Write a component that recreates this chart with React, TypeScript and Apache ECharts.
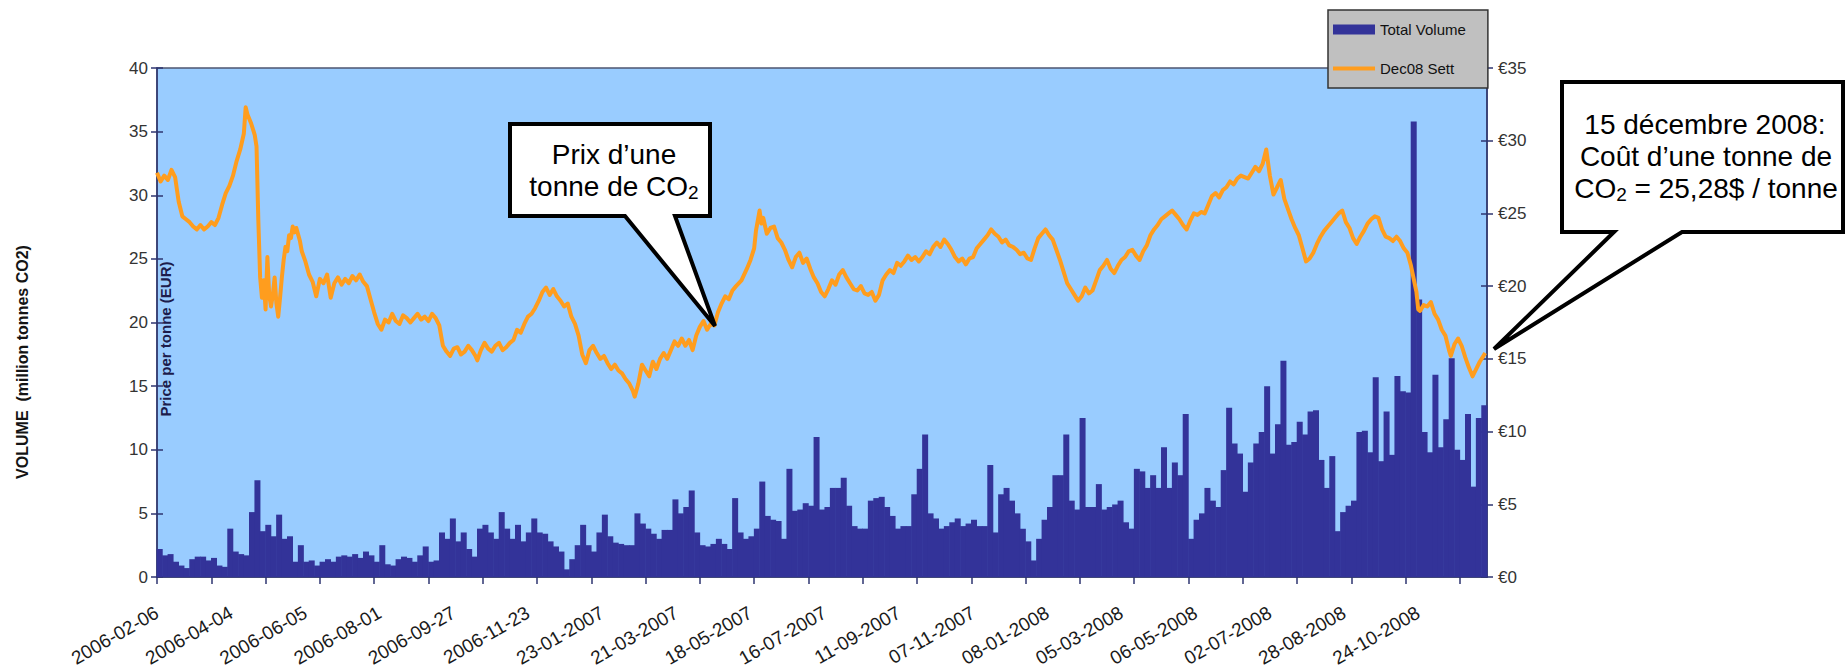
import React, { useEffect, useRef } from 'react';
import * as echarts from 'echarts';

// ---- axis definitions ----
const tickLabels = [
  '2006-02-06', '2006-04-04', '2006-06-05', '2006-08-01', '2006-09-27', '2006-11-23',
  '23-01-2007', '21-03-2007', '18-05-2007', '16-07-2007', '11-09-2007', '07-11-2007',
  '08-01-2008', '05-03-2008', '06-05-2008', '02-07-2008', '28-08-2008', '24-10-2008',
];
const SESSIONS = 735; // trading sessions on the x axis
const LABEL_STEP = 41; // sessions between date labels
const TICK_STEP = 30; // sessions between tick marks
const BIN = 3; // sessions per volume bar

// ---- Total Volume (million tonnes CO2), one value per 3 trading sessions ----
const volume = [
  2.2, 1.7, 1.8, 1.2, 0.9, 0.7, 1.4, 1.6, 1.6, 1.3,
  1.5, 0.9, 0.8, 3.8, 2.0, 1.8, 1.7, 5.1, 7.6, 3.6,
  4.1, 3.2, 4.9, 3.0, 3.2, 1.2, 2.5, 1.2, 1.3, 0.9,
  1.2, 1.4, 1.2, 1.6, 1.7, 1.6, 1.8, 1.5, 2.0, 1.7,
  1.2, 2.5, 1.0, 0.9, 1.4, 1.6, 1.5, 1.2, 1.7, 2.4,
  1.2, 1.3, 3.5, 3.0, 4.6, 2.8, 3.5, 2.2, 1.6, 3.8,
  4.1, 3.5, 3.0, 5.1, 3.8, 3.0, 4.1, 2.8, 3.5, 4.6,
  3.5, 3.4, 2.8, 2.4, 2.0, 0.6, 1.4, 2.5, 4.1, 2.5,
  2.0, 3.5, 4.9, 3.2, 2.7, 2.6, 2.5, 2.5, 5.0, 4.2,
  3.8, 3.4, 3.0, 3.7, 3.7, 6.1, 5.0, 5.5, 6.8, 3.5,
  2.5, 2.4, 2.6, 3.0, 2.6, 2.2, 6.2, 3.5, 3.0, 3.2,
  3.8, 7.5, 4.8, 4.5, 4.4, 3.0, 8.5, 5.2, 5.3, 5.8,
  5.6, 11.0, 5.3, 5.5, 7.0, 7.0, 7.8, 5.6, 4.0, 3.8,
  3.8, 6.0, 6.2, 6.3, 5.5, 4.8, 3.8, 4.0, 4.0, 6.5,
  8.5, 11.2, 5.0, 4.6, 3.8, 4.0, 4.3, 4.6, 4.0, 4.2,
  4.5, 4.0, 4.0, 8.8, 3.5, 6.5, 7.0, 6.0, 5.0, 3.8,
  2.8, 1.3, 3.0, 4.5, 5.5, 8.0, 8.0, 11.2, 6.0, 5.3,
  12.5, 5.5, 5.5, 7.3, 5.3, 5.5, 5.7, 6.0, 4.3, 3.8,
  8.5, 8.3, 7.0, 8.0, 7.0, 10.2, 7.0, 9.0, 8.0, 12.8,
  3.0, 4.5, 5.0, 7.0, 6.0, 5.5, 8.4, 13.3, 10.5, 9.7,
  6.7, 9.0, 10.5, 11.4, 15.0, 9.7, 12.0, 17.0, 10.4, 10.6,
  12.2, 11.2, 13.0, 13.1, 9.2, 7.0, 9.5, 3.6, 5.1, 5.6,
  6.0, 11.4, 11.5, 9.8, 15.7, 9.1, 13.0, 9.6, 15.8, 14.6,
  14.5, 35.8, 21.8, 11.4, 9.8, 15.9, 10.2, 12.4, 17.2, 10.0,
  9.2, 12.8, 7.1, 12.5, 13.5,
];

// ---- Dec08 Sett price (EUR / tonne): [trading session, price] ----
const price: [number, number][] = [
  [0, 27.8], [2, 27.2], [4, 27.6], [6, 27.3], [8, 28.0], [10, 27.5], [12, 25.8], [14, 24.8], [16, 24.6], [18, 24.4],
  [20, 24.1], [22, 23.9], [24, 24.2], [26, 23.9], [28, 24.1], [30, 24.4], [32, 24.2], [34, 24.7], [36, 25.6], [38, 26.4],
  [40, 26.9], [42, 27.6], [44, 28.6], [46, 29.4], [48, 30.5], [49, 32.3], [50, 31.8], [52, 31.2], [54, 30.4], [55, 29.6],
  [56, 24.5], [57, 20.6], [58, 19.2], [59, 20.4], [60, 18.4], [61, 22.0], [62, 19.4], [63, 18.6], [64, 19.4], [65, 20.6],
  [66, 18.8], [67, 17.9], [68, 19.2], [69, 20.6], [70, 21.8], [71, 22.7], [72, 22.4], [73, 23.5], [74, 23.3], [75, 24.1],
  [76, 23.7], [77, 24.0], [79, 23.1], [80, 22.4], [82, 21.7], [84, 20.8], [86, 20.3], [88, 19.3], [90, 20.5], [92, 20.2],
  [94, 20.8], [96, 19.2], [98, 20.2], [100, 20.6], [102, 20.1], [104, 20.5], [106, 20.2], [108, 20.7], [110, 20.4], [112, 20.8],
  [114, 20.3], [116, 20.0], [118, 19.1], [120, 18.2], [122, 17.4], [124, 17.0], [126, 17.7], [128, 17.5], [130, 18.1], [132, 17.6],
  [134, 17.4], [136, 18.0], [138, 17.8], [140, 17.5], [142, 17.8], [144, 18.1], [146, 17.7], [148, 17.9], [150, 17.6], [152, 18.1],
  [154, 17.8], [156, 17.3], [158, 15.9], [160, 15.5], [162, 15.2], [164, 15.7], [166, 15.8], [168, 15.3], [170, 15.5], [172, 15.9],
  [174, 15.6], [176, 15.2], [177, 14.9], [179, 15.6], [181, 16.1], [183, 15.7], [185, 15.5], [187, 15.9], [189, 16.1], [191, 15.6],
  [193, 15.8], [195, 16.1], [197, 16.3], [199, 17.0], [201, 16.8], [203, 17.4], [205, 17.9], [207, 18.1], [209, 18.5], [211, 19.0],
  [213, 19.6], [215, 19.9], [217, 19.4], [219, 19.8], [221, 19.3], [223, 19.0], [225, 18.6], [227, 18.8], [229, 17.9], [231, 17.4],
  [233, 16.6], [235, 15.3], [237, 14.7], [239, 15.6], [241, 15.9], [243, 15.4], [245, 15.0], [247, 15.2], [249, 14.7], [251, 14.3],
  [253, 14.6], [255, 14.2], [257, 14.0], [259, 13.6], [261, 13.3], [263, 12.8], [264, 12.4], [266, 13.3], [268, 14.6], [270, 14.2],
  [272, 13.8], [274, 14.8], [276, 14.3], [278, 15.0], [280, 15.4], [282, 15.0], [284, 15.6], [286, 16.2], [288, 15.9], [290, 16.4],
  [292, 15.9], [294, 16.3], [296, 15.6], [298, 16.6], [300, 17.2], [302, 17.6], [304, 17.0], [306, 17.4], [308, 17.3], [310, 18.2],
  [312, 18.8], [314, 19.3], [316, 19.1], [318, 19.7], [320, 20.0], [323, 20.4], [326, 21.2], [328, 21.8], [330, 22.6], [331, 23.8],
  [333, 25.2], [334, 24.3], [335, 24.7], [337, 23.6], [339, 24.0], [341, 24.1], [343, 23.3], [345, 23.0], [347, 22.5], [349, 21.8],
  [351, 21.3], [353, 22.0], [355, 22.3], [357, 21.6], [359, 21.9], [361, 21.2], [363, 20.6], [365, 20.2], [367, 19.6], [369, 19.3],
  [371, 19.8], [373, 20.4], [375, 20.1], [377, 20.8], [379, 21.1], [381, 20.6], [383, 20.2], [385, 19.8], [387, 19.7], [389, 20.0],
  [391, 19.5], [393, 19.4], [395, 19.6], [397, 19.0], [399, 19.4], [401, 20.4], [403, 20.8], [405, 21.1], [407, 20.9], [409, 21.6],
  [411, 21.4], [413, 21.7], [415, 22.1], [417, 21.8], [419, 22.0], [421, 21.7], [423, 22.0], [425, 22.4], [427, 22.2], [429, 22.7],
  [431, 23.0], [433, 22.7], [435, 23.2], [437, 22.9], [439, 22.5], [441, 22.0], [443, 21.7], [445, 21.9], [447, 21.5], [449, 21.9],
  [451, 22.0], [453, 22.6], [455, 22.9], [457, 23.2], [459, 23.5], [461, 23.9], [463, 23.6], [465, 23.4], [467, 23.0], [469, 23.2],
  [471, 22.8], [473, 22.7], [475, 22.5], [477, 22.2], [479, 22.3], [481, 21.9], [483, 21.8], [485, 22.6], [487, 23.3], [489, 23.6],
  [491, 23.9], [493, 23.5], [495, 23.2], [497, 22.5], [499, 21.8], [501, 21.0], [503, 20.2], [505, 19.8], [507, 19.4], [509, 19.0],
  [511, 19.3], [513, 19.9], [515, 19.5], [517, 19.7], [519, 20.4], [521, 21.1], [523, 21.4], [525, 21.8], [527, 21.2], [529, 20.9],
  [531, 21.4], [533, 21.8], [535, 22.0], [537, 22.4], [539, 22.5], [541, 22.1], [543, 21.8], [545, 22.4], [547, 22.8], [549, 23.5],
  [551, 23.9], [553, 24.2], [555, 24.6], [557, 24.8], [559, 25.0], [561, 25.2], [563, 24.9], [565, 24.6], [567, 24.2], [569, 23.9],
  [571, 24.5], [573, 25.0], [575, 24.9], [577, 25.1], [579, 25.0], [581, 25.6], [583, 26.2], [585, 26.4], [587, 26.1], [589, 26.6],
  [591, 26.8], [593, 27.2], [595, 27.0], [597, 27.4], [599, 27.6], [601, 27.5], [603, 27.4], [605, 27.8], [607, 28.2], [609, 27.9],
  [611, 28.4], [613, 29.4], [615, 27.6], [617, 26.3], [619, 26.8], [621, 27.3], [623, 26.0], [625, 25.3], [627, 24.6], [629, 24.0],
  [631, 23.5], [633, 22.6], [635, 21.7], [637, 21.9], [639, 22.3], [641, 22.9], [643, 23.4], [645, 23.8], [647, 24.1], [649, 24.4],
  [651, 24.7], [653, 25.0], [655, 25.2], [657, 24.4], [659, 24.0], [661, 23.3], [663, 22.9], [665, 23.4], [667, 23.8], [669, 24.3],
  [671, 24.6], [673, 24.8], [675, 24.7], [677, 23.9], [679, 23.4], [681, 23.3], [683, 23.1], [685, 23.4], [687, 23.1], [689, 22.6],
  [691, 22.3], [693, 21.4], [695, 20.2], [696, 19.6], [697, 18.4], [698, 18.3], [700, 18.7], [702, 18.6], [704, 18.9], [706, 18.1],
  [708, 17.7], [710, 17.0], [712, 16.6], [714, 15.6], [715, 15.2], [717, 16.0], [719, 16.4], [721, 15.9], [723, 15.1], [725, 14.4],
  [727, 13.8], [729, 14.3], [731, 14.8], [733, 15.2], [734, 15.4],
];

const FONT = '"Liberation Sans", Arial, Helvetica, sans-serif';
const AXIS_COLOR = '#2e3470';
const ORANGE = '#ff9d1e';

const labelValues = tickLabels.map((_, k) => k * LABEL_STEP);
const tickValues: number[] = [];
for (let v = 0; v <= SESSIONS - TICK_STEP / 2; v += TICK_STEP) tickValues.push(v);

// legend swatch: a 4px-thick bar inside a 42x10 box
const LINE_ICON =
  'path://M0,0h0.01v0.01h-0.01z M0,3h42v4h-42z M41.99,9.99h0.01v0.01h-0.01z';

const bigRich = () => ({
  m: { fontSize: 28, lineHeight: 32, fontFamily: FONT, fill: '#000' },
  s: { fontSize: 19, lineHeight: 10, verticalAlign: 'bottom', fontFamily: FONT, fill: '#000' },
});

const calloutText = (x: number, y: number, text: string) => ({
  type: 'text',
  x,
  y,
  z: 60,
  style: {
    text,
    rich: bigRich(),
    align: 'center',
    verticalAlign: 'middle',
    fontSize: 28,
    fontFamily: FONT,
    fill: '#000',
  },
});

const option = {
  animation: false,
  backgroundColor: '#ffffff',
  textStyle: { fontFamily: FONT },
  grid: {
    left: 157,
    right: 360,
    top: 68,
    bottom: 92,
    show: true,
    backgroundColor: '#99ccff',
    borderColor: '#4d5672',
    borderWidth: 1.5,
    containLabel: false,
    outerBoundsMode: 'none',
  },
  legend: {
    orient: 'vertical',
    left: 1328,
    top: 10,
    backgroundColor: '#c0c0c0',
    borderColor: '#333333',
    borderWidth: 1.5,
    padding: [12, 22, 12, 5],
    itemGap: 24,
    itemWidth: 42,
    itemHeight: 10,
    selectedMode: false,
    textStyle: { fontSize: 15, color: '#111', fontFamily: FONT },
    data: [
      { name: 'Total Volume', icon: 'rect' },
      { name: 'Dec08 Sett', icon: LINE_ICON, itemStyle: { color: ORANGE, borderWidth: 0 } },
    ],
  },
  xAxis: {
    type: 'value',
    min: 0,
    max: SESSIONS,
    axisLine: { show: true, onZero: false, lineStyle: { color: AXIS_COLOR, width: 1.5 } },
    axisTick: { show: true, length: 7, customValues: tickValues, lineStyle: { color: AXIS_COLOR, width: 1.5 } },
    axisLabel: {
      customValues: labelValues,
      rotate: 30,
      margin: 34,
      fontSize: 19,
      color: '#1a1a1a',
      fontFamily: FONT,
      formatter: (v: number) => {
        const k = Math.round(v / LABEL_STEP);
        return k * LABEL_STEP === v && tickLabels[k] ? tickLabels[k] : '';
      },
    },
    splitLine: { show: false },
  },
  yAxis: [
    {
      type: 'value',
      position: 'left',
      min: 0,
      max: 40,
      interval: 5,
      axisLine: { show: true, lineStyle: { color: AXIS_COLOR, width: 1.5 } },
      axisTick: { show: true, length: 6, lineStyle: { color: AXIS_COLOR, width: 1.5 } },
      axisLabel: { fontSize: 17, color: '#333', margin: 9, fontFamily: FONT },
      splitLine: { show: false },
    },
    {
      type: 'value',
      position: 'right',
      min: 0,
      max: 35,
      interval: 5,
      axisLine: { show: true, lineStyle: { color: AXIS_COLOR, width: 1.5 } },
      axisTick: { show: true, length: 6, lineStyle: { color: AXIS_COLOR, width: 1.5 } },
      axisLabel: { fontSize: 17, color: '#333', margin: 11, fontFamily: FONT, formatter: '€{value}' },
      splitLine: { show: false },
    },
    {
      type: 'value',
      position: 'left',
      min: 0,
      max: 40,
      interval: 5,
      axisLine: { show: false },
      axisTick: { show: true, inside: true, length: 6, lineStyle: { color: AXIS_COLOR, width: 1.5 } },
      axisLabel: { show: false },
      splitLine: { show: false },
    },
    {
      type: 'value',
      position: 'right',
      min: 0,
      max: 35,
      interval: 5,
      axisLine: { show: false },
      axisTick: { show: true, inside: true, length: 6, lineStyle: { color: AXIS_COLOR, width: 1.5 } },
      axisLabel: { show: false },
      splitLine: { show: false },
    },
  ],
  series: [
    {
      name: 'Total Volume',
      type: 'bar',
      yAxisIndex: 0,
      barWidth: 6,
      itemStyle: { color: '#333399' },
      data: volume.map((v, i) => [i * BIN + BIN / 2, v]),
      z: 2,
    },
    {
      name: 'Dec08 Sett',
      type: 'line',
      yAxisIndex: 1,
      symbol: 'none',
      lineStyle: { color: ORANGE, width: 4, join: 'round' },
      itemStyle: { color: ORANGE },
      data: price,
      z: 3,
    },
  ],
  graphic: [
    {
      type: 'text',
      x: 22,
      y: 362,
      rotation: Math.PI / 2,
      z: 60,
      style: {
        text: 'VOLUME  (million tonnes CO2)',
        fontSize: 16,
        fontWeight: 'bold',
        fontFamily: FONT,
        fill: '#141414',
        align: 'center',
        verticalAlign: 'middle',
      },
    },
    {
      type: 'text',
      x: 165,
      y: 339,
      rotation: Math.PI / 2,
      z: 60,
      style: {
        text: 'Price per tonne (EUR)',
        fontSize: 15,
        fontWeight: 'bold',
        fontFamily: FONT,
        fill: '#1c1c4c',
        align: 'center',
        verticalAlign: 'middle',
      },
    },
    {
      type: 'polygon',
      z: 55,
      shape: {
        points: [[510, 124], [710, 124], [710, 216], [675, 216], [715, 326], [625, 216], [510, 216]],
      },
      style: { fill: '#ffffff', stroke: '#000000', lineWidth: 4, lineJoin: 'miter' },
    },
    calloutText(614, 154, '{m|Prix d’une}'),
    calloutText(614, 186, '{m|tonne de CO}{s|2}'),
    {
      type: 'polygon',
      z: 55,
      shape: {
        points: [[1562, 82], [1843, 82], [1843, 232], [1682, 232], [1494, 349], [1614, 232], [1562, 232]],
      },
      style: { fill: '#ffffff', stroke: '#000000', lineWidth: 4, lineJoin: 'miter' },
    },
    calloutText(1705, 124, '{m|15 décembre 2008:}'),
    calloutText(1706, 156, '{m|Coût d’une tonne de}'),
    calloutText(1706, 188, '{m|CO}{s|2}{m| = 25,28$ / tonne}'),
  ],
};

export default function App() {
  const ref = useRef<HTMLDivElement>(null);
  useEffect(() => {
    if (!ref.current) return;
    const chart = echarts.init(ref.current, null, { renderer: 'svg' });
    chart.setOption(option as any);
    return () => chart.dispose();
  }, []);
  return (
    <div
      ref={ref}
      style={{ position: 'fixed', left: 0, top: 0, width: 1847, height: 669, background: '#ffffff' }}
    />
  );
}
